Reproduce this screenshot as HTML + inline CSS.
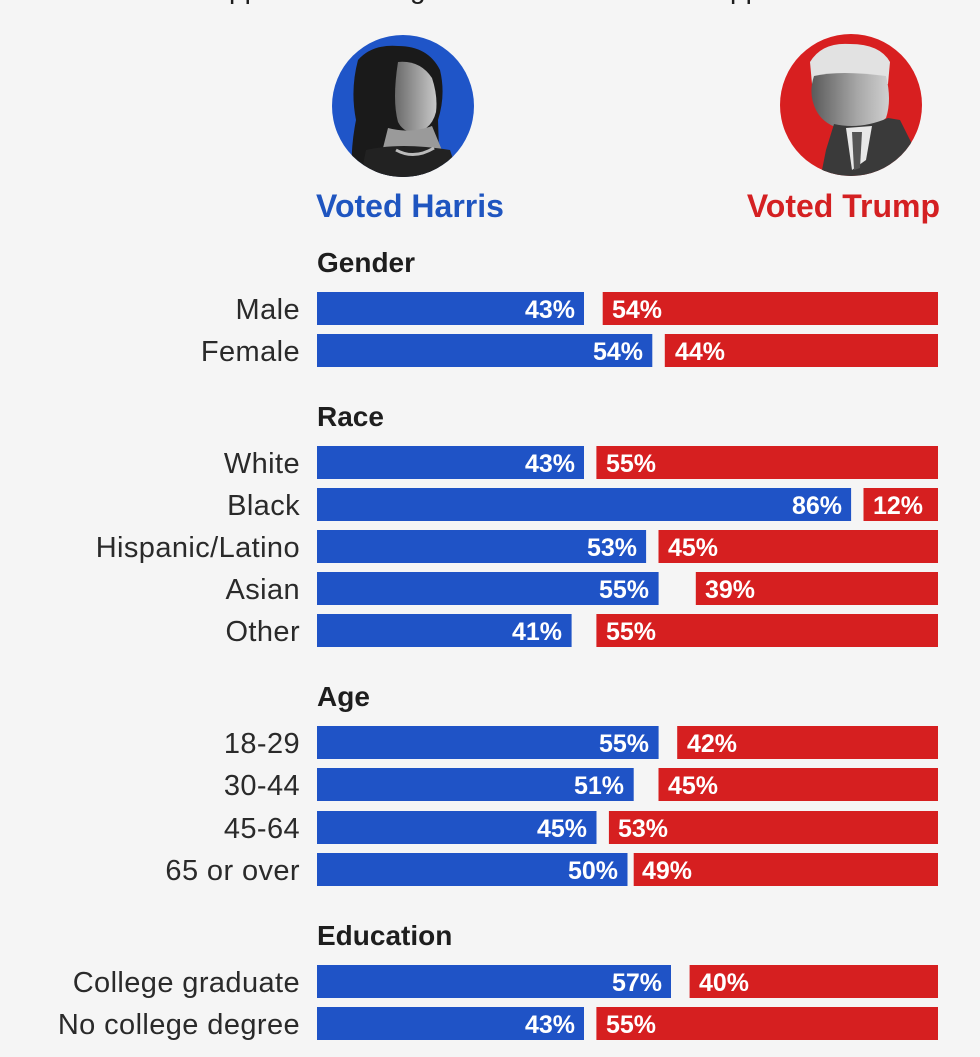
<!DOCTYPE html>
<html>
<head>
<meta charset="utf-8">
<style>
html,body{margin:0;padding:0;background:#f5f5f5;}
svg{display:block;}
.lab{font-family:"Liberation Sans",sans-serif;font-size:29px;fill:#2a2a2a;text-anchor:end;letter-spacing:0.4px;}
.hd{font-family:"Liberation Sans",sans-serif;font-size:28px;font-weight:bold;fill:#1e1e1e;}
.v{font-family:"Liberation Sans",sans-serif;font-size:25px;font-weight:bold;fill:#ffffff;}
.ve{text-anchor:end;}
.b{fill:#1f53c6;}
.r{fill:#d61f20;}
</style>
</head>
<body>
<svg width="980" height="1057" viewBox="0 0 980 1057" xmlns="http://www.w3.org/2000/svg">
<rect width="980" height="1057" fill="#f5f5f5"/>
<!-- cut-off top text descenders -->
<text x="229" y="-2" class="hd" style="font-weight:normal;font-size:28px">pp</text>
<text x="410" y="-2" class="hd" style="font-weight:normal;font-size:28px">g</text>
<text x="730" y="-2" class="hd" style="font-weight:normal;font-size:28px">pp</text>

<defs>
<clipPath id="ch"><circle cx="403" cy="106" r="71"/></clipPath>
<clipPath id="ct"><circle cx="851" cy="105" r="71"/></clipPath>
<linearGradient id="gface" x1="0" y1="0" x2="1" y2="0">
<stop offset="0" stop-color="#6a6a6a"/><stop offset="1" stop-color="#c8c8c8"/>
</linearGradient>
<linearGradient id="tface" x1="0" y1="0" x2="1" y2="0">
<stop offset="0" stop-color="#5a5a5a"/><stop offset="0.6" stop-color="#a8a8a8"/><stop offset="1" stop-color="#d0d0d0"/>
</linearGradient>
</defs>

<!-- Harris portrait -->
<circle cx="403" cy="106" r="71" fill="#1f55c8"/>
<g clip-path="url(#ch)">
<path d="M358 60 Q372 44 398 46 Q428 46 440 70 Q446 95 438 120 L440 180 L352 180 Q350 150 356 120 Q350 90 358 60 Z" fill="#1a1a1a"/>
<path d="M398 62 Q420 60 432 78 Q438 96 436 112 Q432 128 418 132 Q404 134 398 122 Q392 100 398 62 Z" fill="url(#gface)"/>
<path d="M388 128 Q410 134 432 126 L446 160 L380 160 Z" fill="#9a9a9a"/>
<path d="M366 150 Q400 142 450 150 L460 180 L360 180 Z" fill="#222"/>
<path d="M396 150 Q414 160 434 148" stroke="#bbb" stroke-width="3" fill="none"/>
</g>

<!-- Trump portrait -->
<circle cx="851" cy="105" r="71" fill="#d81f20"/>
<g clip-path="url(#ct)">
<path d="M810 62 Q822 42 850 44 Q880 44 890 62 L888 84 L812 84 Z" fill="#e2e2e2"/>
<path d="M814 76 Q840 70 886 76 Q892 100 886 118 Q870 132 846 130 Q824 126 816 110 Q808 94 814 76 Z" fill="url(#tface)"/>
<path d="M834 124 Q860 130 888 118 L900 120 L930 180 L820 180 L826 150 Z" fill="#3a3a3a"/>
<path d="M846 128 L872 126 L866 160 L852 170 Z" fill="#e8e8e8"/>
<path d="M852 132 L862 132 L860 168 L854 170 Z" fill="#555"/>
</g>

<text x="316" y="217" style="font-family:'Liberation Sans',sans-serif;font-size:32px;font-weight:bold;fill:#1f55c0">Voted Harris</text>
<text x="940" y="217" text-anchor="end" style="font-family:'Liberation Sans',sans-serif;font-size:32px;font-weight:bold;fill:#d42022">Voted Trump</text>

<!-- Headings -->
<text x="317" y="272" class="hd">Gender</text>
<text x="317" y="426" class="hd">Race</text>
<text x="317" y="706" class="hd">Age</text>
<text x="317" y="945" class="hd">Education</text>

<!-- Gender -->
<text x="300" y="319" class="lab">Male</text>
<rect x="317" y="292" width="267" height="33" class="b"/><rect x="602.7" y="292" width="335.3" height="33" class="r"/>
<text x="575" y="318" class="v ve">43%</text><text x="612" y="318" class="v">54%</text>

<text x="300" y="361" class="lab">Female</text>
<rect x="317" y="334" width="335.3" height="33" class="b"/><rect x="664.8" y="334" width="273.2" height="33" class="r"/>
<text x="643" y="360" class="v ve">54%</text><text x="675" y="360" class="v">44%</text>

<!-- Race -->
<text x="300" y="473" class="lab">White</text>
<rect x="317" y="446" width="267" height="33" class="b"/><rect x="596.4" y="446" width="341.6" height="33" class="r"/>
<text x="575" y="472" class="v ve">43%</text><text x="606" y="472" class="v">55%</text>

<text x="300" y="515" class="lab">Black</text>
<rect x="317" y="488" width="534.1" height="33" class="b"/><rect x="863.5" y="488" width="74.5" height="33" class="r"/>
<text x="842" y="514" class="v ve">86%</text><text x="873" y="514" class="v">12%</text>

<text x="300" y="557" class="lab">Hispanic/Latino</text>
<rect x="317" y="530" width="329.1" height="33" class="b"/><rect x="658.5" y="530" width="279.5" height="33" class="r"/>
<text x="637" y="556" class="v ve">53%</text><text x="668" y="556" class="v">45%</text>

<text x="300" y="599" class="lab">Asian</text>
<rect x="317" y="572" width="341.6" height="33" class="b"/><rect x="695.8" y="572" width="242.2" height="33" class="r"/>
<text x="649" y="598" class="v ve">55%</text><text x="705" y="598" class="v">39%</text>

<text x="300" y="641" class="lab">Other</text>
<rect x="317" y="614" width="254.6" height="33" class="b"/><rect x="596.4" y="614" width="341.6" height="33" class="r"/>
<text x="562" y="640" class="v ve">41%</text><text x="606" y="640" class="v">55%</text>

<!-- Age -->
<text x="300" y="753" class="lab">18-29</text>
<rect x="317" y="726" width="341.6" height="33" class="b"/><rect x="677.2" y="726" width="260.8" height="33" class="r"/>
<text x="649" y="752" class="v ve">55%</text><text x="687" y="752" class="v">42%</text>

<text x="300" y="795" class="lab">30-44</text>
<rect x="317" y="768" width="316.7" height="33" class="b"/><rect x="658.5" y="768" width="279.5" height="33" class="r"/>
<text x="624" y="794" class="v ve">51%</text><text x="668" y="794" class="v">45%</text>

<text x="300" y="838" class="lab">45-64</text>
<rect x="317" y="811" width="279.5" height="33" class="b"/><rect x="608.9" y="811" width="329.1" height="33" class="r"/>
<text x="587" y="837" class="v ve">45%</text><text x="618" y="837" class="v">53%</text>

<text x="300" y="880" class="lab">65 or over</text>
<rect x="317" y="853" width="310.5" height="33" class="b"/><rect x="633.7" y="853" width="304.3" height="33" class="r"/>
<text x="618" y="879" class="v ve">50%</text><text x="642" y="879" class="v">49%</text>

<!-- Education -->
<text x="300" y="992" class="lab">College graduate</text>
<rect x="317" y="965" width="354" height="33" class="b"/><rect x="689.6" y="965" width="248.4" height="33" class="r"/>
<text x="662" y="991" class="v ve">57%</text><text x="699" y="991" class="v">40%</text>

<text x="300" y="1034" class="lab">No college degree</text>
<rect x="317" y="1007" width="267" height="33" class="b"/><rect x="596.4" y="1007" width="341.6" height="33" class="r"/>
<text x="575" y="1033" class="v ve">43%</text><text x="606" y="1033" class="v">55%</text>
</svg>
</body>
</html>
